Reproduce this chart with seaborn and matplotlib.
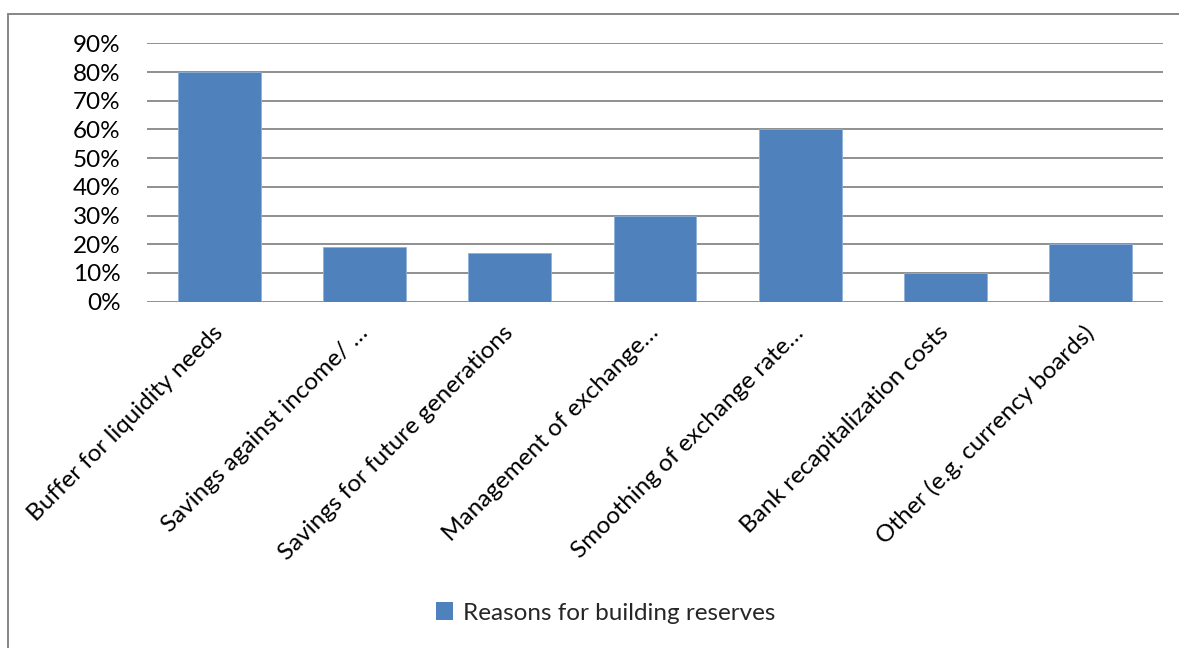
import matplotlib
matplotlib.use("Agg")
import matplotlib.pyplot as plt
import seaborn as sns
import pandas as pd
from matplotlib.patches import Rectangle
from matplotlib.ticker import MultipleLocator, FuncFormatter

categories = [
    "Buffer for liquidity needs",
    "Savings against income/ …",
    "Savings for future generations",
    "Management of exchange…",
    "Smoothing of exchange rate…",
    "Bank recapitalization costs",
    "Other (e.g. currency boards)",
]
values = [0.80, 0.19, 0.17, 0.30, 0.60, 0.10, 0.20]
series_name = "Reasons for building reserves"

df = pd.DataFrame({"category": categories, "value": values, "series": series_name})

sns.set_style("white")
plt.rcParams["font.family"] = ["Lato", "DejaVu Sans"]

W, H = 1179, 648
FS = 17.5
fig = plt.figure(figsize=(W / 100, H / 100), dpi=100)
ax = fig.add_axes([147 / W, 1 - 301.7 / H, (1163 - 147) / W, (301.7 - 43.3) / H])

bar_color = "#4F81BD"
sns.barplot(data=df, x="category", y="value", hue="series", palette=[bar_color],
            width=0.57, ax=ax, legend=False, saturation=1,
            edgecolor="#8FB0D8", linewidth=0.6, zorder=3)

ax.set_ylim(0, 0.9)
ax.set_xlim(-0.5, len(categories) - 0.5)
ax.yaxis.set_major_locator(MultipleLocator(0.1))
ax.yaxis.set_major_formatter(FuncFormatter(lambda v, p: f"{v*100:.0f}%"))
ax.grid(axis="y", color="#878787", linewidth=1.3, zorder=0)
ax.set_axisbelow(True)
for s in ax.spines.values():
    s.set_visible(False)
ax.set_xlabel("")
ax.set_ylabel("")
ax.tick_params(axis="y", length=0, pad=19, labelsize=FS, labelcolor="#000000")
ax.tick_params(axis="x", length=0, pad=6, labelsize=FS, labelcolor="#000000")
for lab in ax.get_yticklabels():
    lab.set_horizontalalignment("right")
ax.set_xticks(range(len(categories)))
ax.set_xticklabels(categories, rotation=45, ha="right", va="center",
                   rotation_mode="anchor")
for lab in ax.get_xticklabels():
    lab.set_y(-0.075)

# legend
handle = Rectangle((0, 0), 1, 1, facecolor=bar_color, edgecolor="none")
fig.legend([handle], [series_name], loc="center",
           bbox_to_anchor=(606 / W, 1 - 613 / H), frameon=False,
           fontsize=FS, handlelength=0.7, handleheight=0.7,
           handletextpad=0.4)

# chart border
fig.patches.append(Rectangle((8 / W, -0.1), 1.2, 1 - 14 / H + 0.1,
                             transform=fig.transFigure, fill=False,
                             edgecolor="#868686", linewidth=1.4))

fig.savefig("out.png", dpi=100, facecolor="white")
